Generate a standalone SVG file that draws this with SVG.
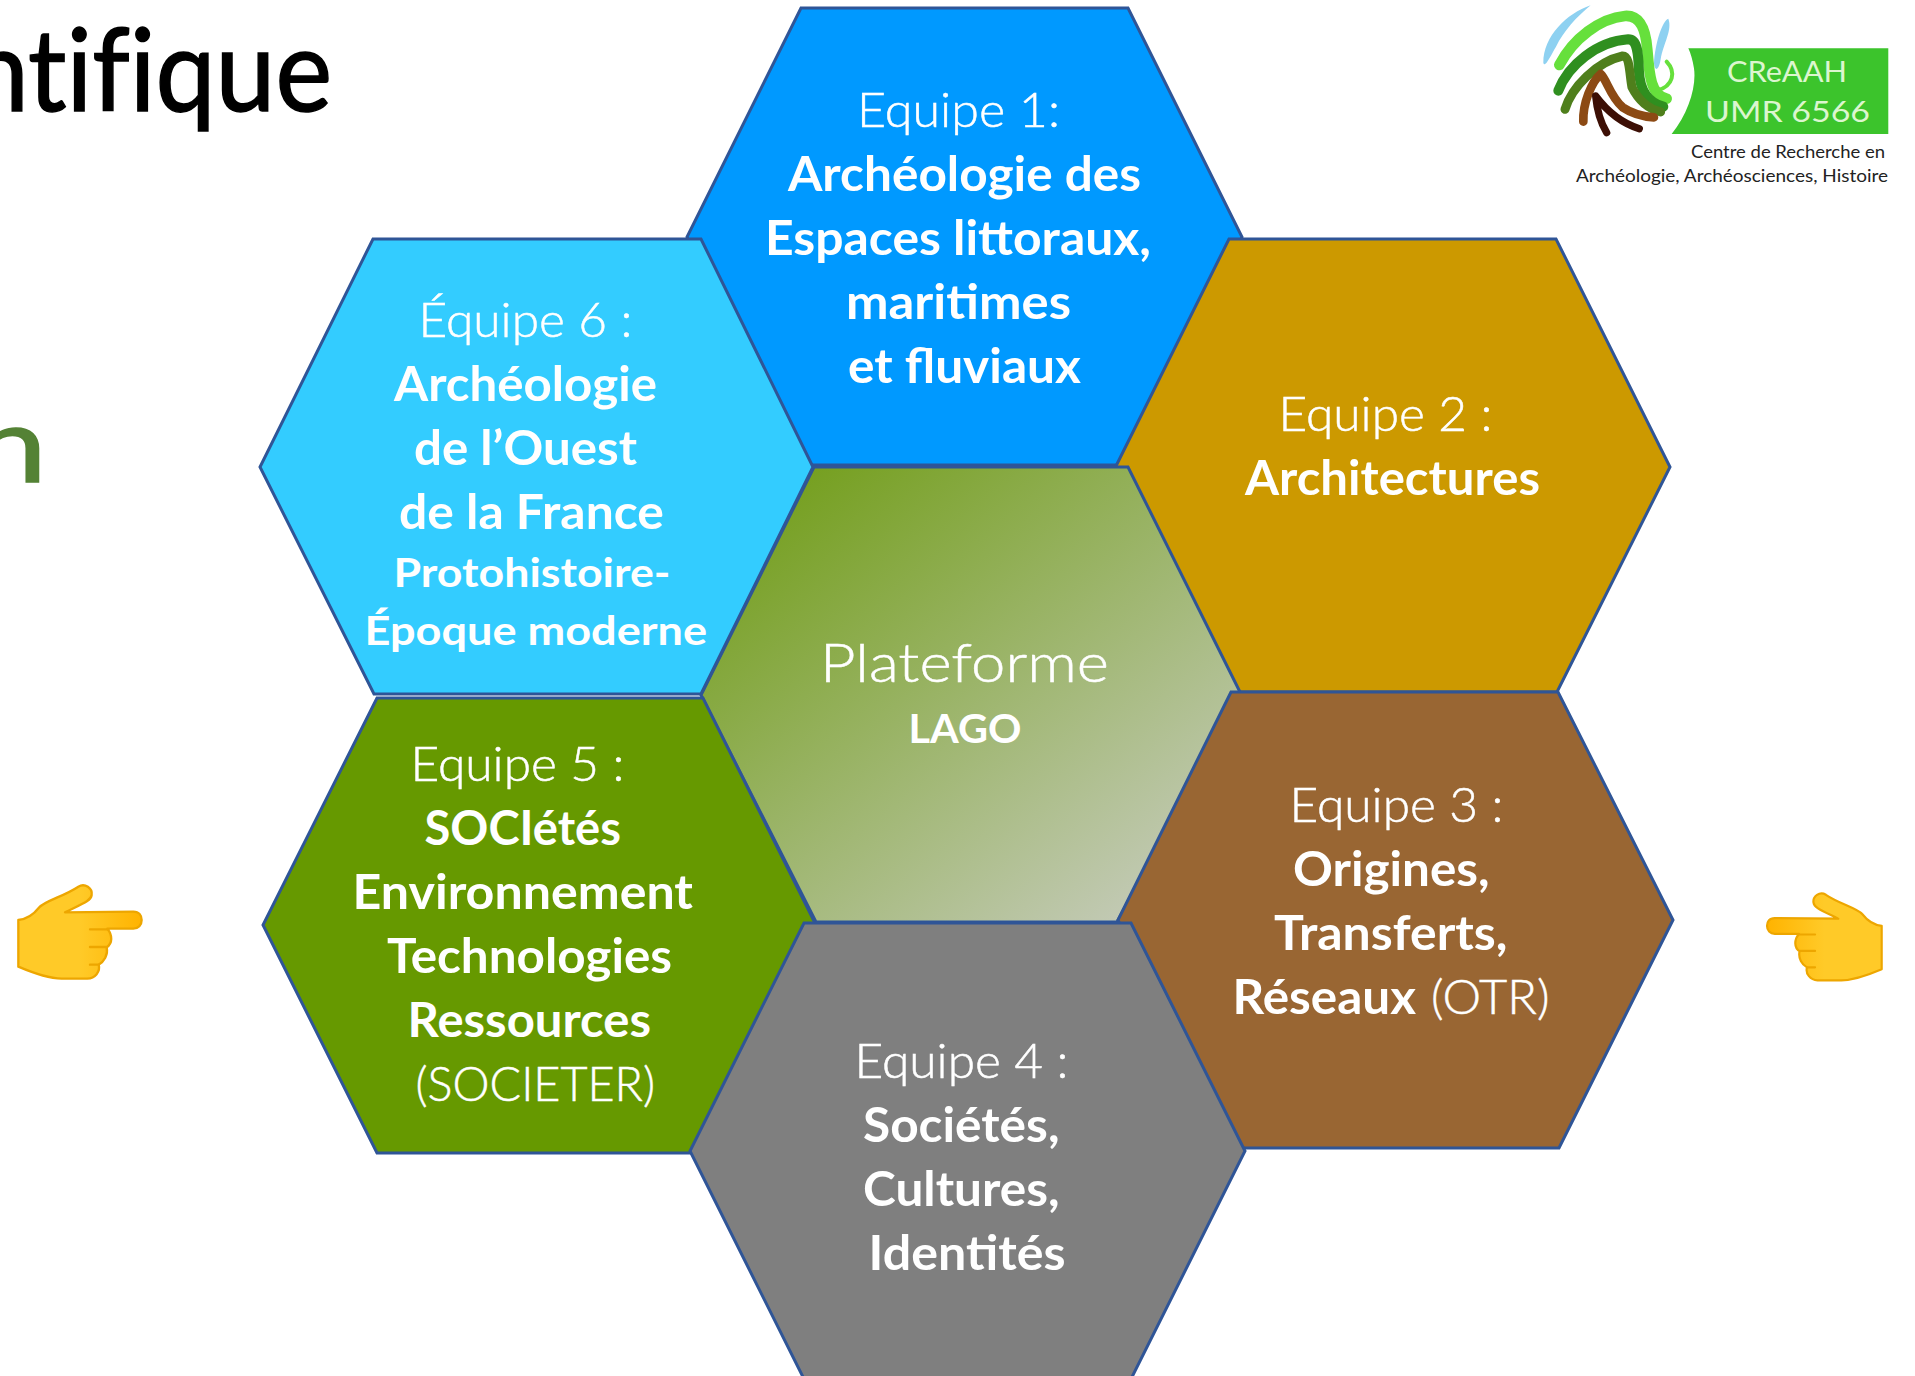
<svg xmlns="http://www.w3.org/2000/svg" width="1915" height="1376" viewBox="0 0 1915 1376">
<style>
text{font-family:Lato,"Carlito","Open Sans",sans-serif}
.hex{stroke:#2f5597;stroke-width:3;stroke-linejoin:miter}
.l{fill:#fff;stroke:#fff;stroke-width:.5;font-size:47px;font-weight:300}
.b{fill:#fff;font-size:47px;font-weight:700}
.s{fill:#fff;font-size:40px;font-weight:700}
.hand{fill:url(#handGrad);stroke:#eda600;stroke-width:7;stroke-linejoin:round}
.crease{fill:none;stroke:#eda600;stroke-width:7;stroke-linecap:round}
.lg{fill:none;stroke-linecap:round;stroke-linejoin:round}
</style>
<defs>
<linearGradient id="centerGrad" gradientUnits="userSpaceOnUse" x1="800" y1="480" x2="1140" y2="915">
<stop offset="0" stop-color="#76a021"/>
<stop offset="1" stop-color="#c3cab6"/>
</linearGradient>
<linearGradient id="handGrad" gradientUnits="objectBoundingBox" x1="0" y1="0" x2="1" y2="0">
<stop offset="0" stop-color="#ffca28"/>
<stop offset="0.5" stop-color="#ffca28"/>
<stop offset="1" stop-color="#ffb300"/>
</linearGradient>
<path id="handShape" d="M55,180 C80,178 100,165 118,142 C135,122 190,110 235,80 C255,68 278,85 275,105 C273,122 250,130 195,157 L400,155 C418,155 425,168 425,180 C425,195 415,206 400,206 L322,206 C338,225 338,250 320,262 C325,285 312,305 296,314 C302,335 285,355 262,356 L185,356 C140,355 90,335 55,320 Z"/>
</defs>
<rect width="1915" height="1376" fill="#fff"/>

<g id="title">
<text x="-31" y="111" font-size="114" fill="#000" stroke="#000" stroke-width="1.5" textLength="363" lengthAdjust="spacingAndGlyphs" style="font-weight:400;font-variant-ligatures:none">ntifique</text>
<text x="-27" y="482" font-size="105" fill="#548235" stroke="#548235" stroke-width="1.5" textLength="74" lengthAdjust="spacingAndGlyphs" style="font-weight:400">n</text>
</g>

<g id="hex1">
<polygon class="hex" fill="#0099ff" points="801,8 1128,8 1242,237 1128,465 801,465 687,237"/>
<text class="l" x="857" y="127" textLength="203" lengthAdjust="spacingAndGlyphs">Equipe 1:</text>
<text class="b" x="788" y="191" textLength="353" lengthAdjust="spacingAndGlyphs">Archéologie des</text>
<text class="b" x="765" y="255" textLength="386" lengthAdjust="spacingAndGlyphs">Espaces littoraux,</text>
<text class="b" x="846" y="319" textLength="225" lengthAdjust="spacingAndGlyphs">maritimes</text>
<text class="b" x="848" y="383" textLength="233" lengthAdjust="spacingAndGlyphs">et fluviaux</text>
</g>

<g id="hex2">
<polygon class="hex" fill="#cc9900" points="1229,239 1556,239 1670,467 1557,692 1229,692 1116,466"/>
<text class="l" x="1278.500" y="431" textLength="214" lengthAdjust="spacingAndGlyphs">Equipe 2 :</text>
<text class="b" x="1245" y="495" textLength="295" lengthAdjust="spacingAndGlyphs">Architectures</text>
</g>

<g id="lago">
<polygon class="hex" fill="url(#centerGrad)" points="814,467 1128,467 1240,692 1117,922 816,922 701,695"/>
<text class="l" x="820" y="682" style="font-size:53px" textLength="289" lengthAdjust="spacingAndGlyphs">Plateforme</text>
<text class="b" x="908.500" y="743" style="font-size:41px" textLength="113" lengthAdjust="spacingAndGlyphs">LAGO</text>
</g>

<g id="hex6">
<polygon class="hex" fill="#33ccff" points="373,239 701,239 813,467 701,694 374,694 260,467"/>
<text class="l" x="418.500" y="337" textLength="214" lengthAdjust="spacingAndGlyphs">Équipe 6 :</text>
<text class="b" x="394" y="401" textLength="263" lengthAdjust="spacingAndGlyphs">Archéologie</text>
<text class="b" x="414" y="465" textLength="223" lengthAdjust="spacingAndGlyphs">de l’Ouest</text>
<text class="b" x="399" y="529" textLength="265" lengthAdjust="spacingAndGlyphs">de la France</text>
<text class="s" x="393.500" y="587" textLength="277" lengthAdjust="spacingAndGlyphs">Protohistoire-</text>
<text class="s" x="364.500" y="644.500" textLength="342.500" lengthAdjust="spacingAndGlyphs">Époque moderne</text>
</g>

<g id="hex5">
<polygon class="hex" fill="#669900" points="377,698 703,698 816,925 703,1153 377,1153 263,925"/>
<text class="l" x="410.500" y="781" textLength="214" lengthAdjust="spacingAndGlyphs">Equipe 5 :</text>
<text class="b" x="424.500" y="845" textLength="196.500" lengthAdjust="spacingAndGlyphs">SOCIétés</text>
<text class="b" x="352.500" y="909" textLength="340.500" lengthAdjust="spacingAndGlyphs">Environnement</text>
<text class="b" x="387" y="973" textLength="285" lengthAdjust="spacingAndGlyphs">Technologies</text>
<text class="b" x="407.500" y="1037" textLength="243.500" lengthAdjust="spacingAndGlyphs">Ressources</text>
<text class="l" x="415.500" y="1101" textLength="239.500" lengthAdjust="spacingAndGlyphs">(SOCIETER)</text>
</g>

<g id="hex3">
<polygon class="hex" fill="#996633" points="1231,692 1558,692 1673,920 1559,1148 1231,1148 1118,920"/>
<text class="l" x="1289.500" y="822" textLength="214" lengthAdjust="spacingAndGlyphs">Equipe 3 :</text>
<text class="b" x="1293" y="886" textLength="196.500" lengthAdjust="spacingAndGlyphs">Origines,</text>
<text class="b" x="1274" y="950" textLength="233.500" lengthAdjust="spacingAndGlyphs">Transferts,</text>
<text class="b" x="1232.500" y="1014" textLength="183.500" lengthAdjust="spacingAndGlyphs">Réseaux</text>
<text class="l" x="1431" y="1014" textLength="118.500" lengthAdjust="spacingAndGlyphs">(OTR)</text>
</g>

<g id="hex4">
<polygon class="hex" fill="#7f7f7f" points="804,923 1131,923 1245,1151 1131,1379 804,1379 690,1151"/>
<text class="l" x="854.500" y="1078" textLength="214" lengthAdjust="spacingAndGlyphs">Equipe 4 :</text>
<text class="b" x="863" y="1142" textLength="196.500" lengthAdjust="spacingAndGlyphs">Sociétés,</text>
<text class="b" x="863" y="1206" textLength="196.500" lengthAdjust="spacingAndGlyphs">Cultures,</text>
<text class="b" x="868.500" y="1270" textLength="197" lengthAdjust="spacingAndGlyphs">Identités</text>
</g>

<g id="hand-left" transform="translate(0,860) scale(0.3333)">
<use href="#handShape" class="hand"/>
<path class="crease" d="M270,208H325M270,261H318M270,314H296"/>
</g>
<g id="hand-right" transform="translate(1898.75,870) scale(-0.31,0.31)">
<use href="#handShape" class="hand"/>
<path class="crease" d="M270,208H325M270,261H318M270,314H296"/>
</g>

<g id="logo">
<g transform="translate(1500,0) scale(0.3333)">
<path d="M272,16 C200,40 130,110 130,188 C135,205 150,170 168,140 C190,95 230,50 272,16Z" fill="#8ed1f1"/>
<path d="M505,56 C488,60 465,130 462,190 C465,218 477,210 482,178 C490,130 518,90 505,56Z" fill="#8ed1f1"/>
<path class="lg" stroke="#66e03c" stroke-width="32" d="M178,195 C220,115 300,55 375,48 C425,45 438,95 442,150 C448,225 452,285 500,296"/>
<path class="lg" stroke="#66e03c" stroke-width="12" d="M500,185 C528,215 522,258 470,272"/>
<path class="lg" stroke="#2f8f1f" stroke-width="30" d="M175,272 C205,195 290,125 385,118 C415,118 415,170 417,215 C420,270 445,308 490,320"/>
<path class="lg" stroke="#4f7f1c" stroke-width="27" d="M195,328 C215,262 290,185 368,168 C390,168 388,220 396,262 C416,302 442,326 482,336"/>
<path class="lg" stroke="#8c4a14" stroke-width="26" d="M250,365 C248,310 275,245 302,222 C320,238 330,288 368,322 C398,342 430,350 462,352"/>
<path class="lg" stroke="#3c0f05" stroke-width="22" d="M320,398 C300,365 290,320 287,288 C320,332 360,368 418,386"/>
<path d="M565,145 H1165 V402 H515 C565,340 590,260 582,205 C578,180 572,160 565,145Z" fill="#3cc42c"/>
</g>
<text x="1727" y="82" font-size="29" fill="#dcf6cf" textLength="120" lengthAdjust="spacingAndGlyphs">CReAAH</text>
<text x="1705" y="122" font-size="29" fill="#dcf6cf" textLength="165" lengthAdjust="spacingAndGlyphs">UMR 6566</text>
<text x="1691" y="158" font-size="18" fill="#222" textLength="194" lengthAdjust="spacingAndGlyphs">Centre de Recherche en</text>
<text x="1576" y="182" font-size="18" fill="#222" textLength="312" lengthAdjust="spacingAndGlyphs">Archéologie, Archéosciences, Histoire</text>
</g>
</svg>
